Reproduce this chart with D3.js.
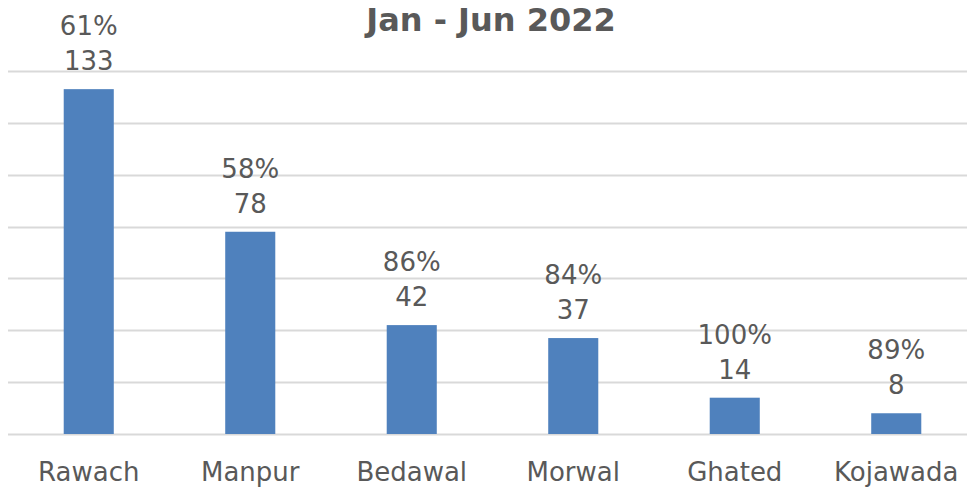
<!DOCTYPE html>
<html lang="en">
<head>
<meta charset="utf-8">
<style>
  body { margin: 0; background: #fff; }
  svg { font-family: "DejaVu Sans", sans-serif; display: block; }
</style>
<script src="https://d3js.org/d3.v7.min.js"></script>
</head>
<body>
<svg width="967" height="491"></svg>
<script>

var villages = ["Rawach", "Manpur", "Bedawal", "Morwal", "Ghated", "Kojawada"];
var counts = [133, 78, 42, 37, 14, 8];
var percents = ["61%", "58%", "86%", "84%", "100%", "89%"];
var gridTicks = [0, 20, 40, 60, 80, 100, 120, 140];

var svg = d3.select("svg"),
    width = +svg.attr("width"),
    height = +svg.attr("height");

var data = villages.map(function(v, i) {
  return {name: v, value: counts[i], pct: percents[i]};
});

var x = d3.scaleBand()
    .domain(villages)
    .range([8, 977])
    .paddingInner(0.69)
    .paddingOuter(0.345);

var y = d3.scaleLinear()
    .domain([0, 140])
    .range([434, 71]);

// gridlines
svg.append("g")
  .selectAll("line")
  .data(gridTicks)
  .enter().append("line")
    .attr("x1", 8)
    .attr("x2", width)
    .attr("y1", function(d) { return Math.round(y(d)) + 0.5; })
    .attr("y2", function(d) { return Math.round(y(d)) + 0.5; })
    .attr("stroke", "#d9d9d9")
    .attr("stroke-width", 2);

// bars
svg.append("g")
  .selectAll("rect")
  .data(data)
  .enter().append("rect")
    .attr("x", function(d) { return x(d.name); })
    .attr("y", function(d) { return y(d.value); })
    .attr("width", x.bandwidth())
    .attr("height", function(d) { return y(0) - y(d.value); })
    .attr("fill", "#4f81bd");

// value labels
var lab = svg.append("g")
    .attr("fill", "#595959")
    .attr("font-size", 26)
    .attr("text-anchor", "middle");

lab.selectAll(".cnt")
  .data(data)
  .enter().append("text")
    .attr("class", "cnt")
    .attr("x", function(d) { return x(d.name) + x.bandwidth() / 2; })
    .attr("y", function(d) { return y(d.value) - 19; })
    .text(function(d) { return d.value; });

lab.selectAll(".pct")
  .data(data)
  .enter().append("text")
    .attr("class", "pct")
    .attr("x", function(d) { return x(d.name) + x.bandwidth() / 2; })
    .attr("y", function(d) { return y(d.value) - 54; })
    .text(function(d) { return d.pct; });

// category axis
var axis = svg.append("g")
    .attr("transform", "translate(0,434)")
    .call(d3.axisBottom(x).tickSize(0).tickPadding(29));
axis.select(".domain").remove();
axis.selectAll("text")
    .attr("fill", "#595959")
    .attr("font-size", 26)
    .attr("font-family", "DejaVu Sans, sans-serif");

// title
svg.append("text")
    .attr("x", 491)
    .attr("y", 31)
    .attr("text-anchor", "middle")
    .attr("fill", "#595959")
    .attr("font-size", 32)
    .attr("font-weight", "bold")
    .text("Jan - Jun 2022");

</script>
</body>
</html>
